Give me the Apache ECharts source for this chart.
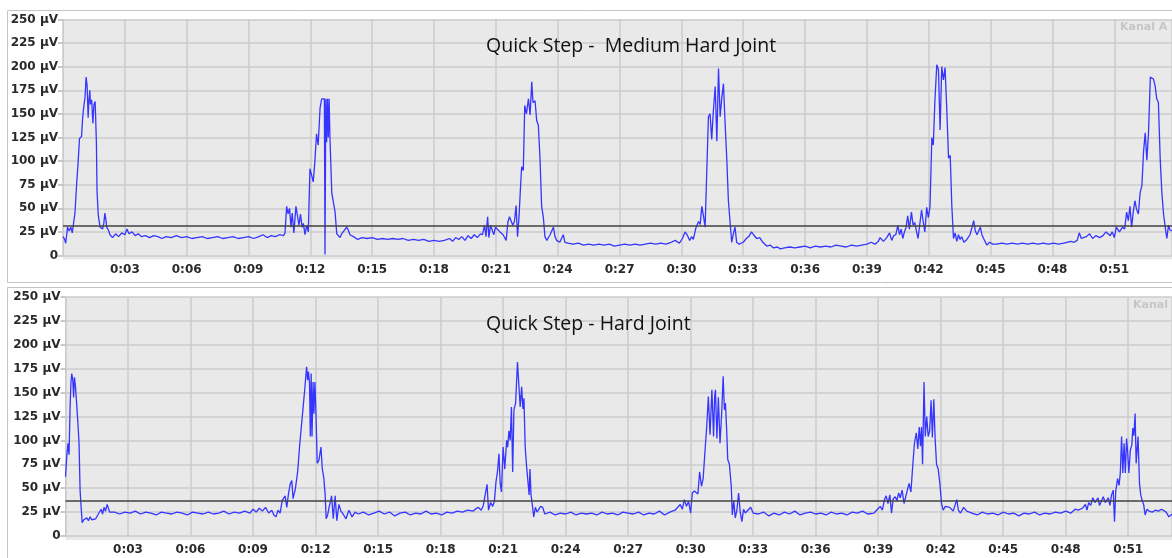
<!DOCTYPE html>
<html>
<head>
<meta charset="utf-8">
<script src="https://cdn.jsdelivr.net/npm/echarts@6/dist/echarts.min.js"></script>
<style>
  html, body { margin: 0; padding: 0; background: #ffffff; }
  #chart { width: 1172px; height: 558px; }
</style>
</head>
<body>
<div id="chart"></div>
<script>
// EMG amplitude (µV) over time (s) for two quick-step recordings.
const mediumHardJoint = [
  [0.00,20],[0.08,17],[0.13,13],[0.18,22],[0.22,30],[0.30,26],[0.38,30],[0.45,24],[0.52,26],
  [0.58,45],[0.66,75],[0.74,101],[0.80,124],[0.90,126],[0.95,145],[1.00,156],[1.07,168],
  [1.12,189],[1.17,180],[1.22,146],[1.25,162],[1.30,175],[1.33,160],[1.39,165],[1.45,140],
  [1.50,160],[1.56,163],[1.62,120],[1.65,69],[1.71,43],[1.75,37],[1.80,30],[1.86,32],
  [1.92,28],[1.98,34],[2.03,45],[2.08,38],[2.12,30],[2.20,27],[2.28,22],[2.40,19],[2.55,23],
  [2.70,20],[2.85,24],[3.00,22],[3.10,28],[3.20,23],[3.35,25],[3.50,21],[3.65,23],[3.80,20],
  [4.00,21],[4.20,19],[4.40,21],[4.60,20],[4.80,18],[5.00,20],[5.25,19],[5.50,21],[5.75,19],
  [6.00,20],[6.25,18],[6.50,19],[6.75,20],[7.00,18],[7.25,19],[7.50,20],[7.75,18],[8.00,19],
  [8.25,20],[8.50,18],[8.75,19],[9.00,20],[9.25,18],[9.50,20],[9.70,22],[9.90,19],[10.10,21],
  [10.30,20],[10.50,22],[10.70,21],[10.77,24],[10.85,52],[10.92,44],[10.99,50],[11.06,30],
  [11.12,45],[11.20,24],[11.30,52],[11.38,50],[11.45,32],[11.52,44],[11.60,30],[11.66,34],
  [11.74,22],[11.82,32],[11.90,25],[11.98,92],[12.05,86],[12.14,78],[12.22,100],[12.30,129],
  [12.38,117],[12.47,156],[12.55,166],[12.63,164],[12.68,166],[12.71,1],[12.75,166],[12.79,120],
  [12.83,166],[12.87,125],[12.91,166],[12.95,125],[13.04,66],[13.12,64],[13.20,46],[13.28,23],
  [13.36,24],[13.44,19],[13.52,23],[13.60,21],[13.76,30],[13.84,27],[13.92,22],[14.09,20],
  [14.30,17],[14.50,19],[14.75,18],[15.00,19],[15.25,17],[15.50,18],[15.75,17],[16.00,18],
  [16.25,17],[16.50,18],[16.75,16],[17.00,17],[17.25,16],[17.50,17],[17.75,15],[18.00,16],
  [18.25,15],[18.50,16],[18.75,18],[18.90,15],[19.05,19],[19.20,17],[19.35,20],[19.50,16],
  [19.65,21],[19.80,18],[19.95,22],[20.10,19],[20.25,23],[20.35,22],[20.45,32],[20.52,20],
  [20.60,41],[20.66,19],[20.74,32],[20.82,27],[20.90,22],[20.98,30],[21.06,28],[21.20,25],
  [21.35,22],[21.50,16],[21.58,35],[21.66,41],[21.74,43],[21.82,32],[21.90,36],[21.98,53],
  [22.05,20],[22.12,40],[22.18,66],[22.25,94],[22.33,90],[22.40,159],[22.48,150],[22.58,166],
  [22.66,149],[22.74,184],[22.80,162],[22.90,164],[22.98,143],[23.06,138],[23.14,103],
  [23.22,52],[23.30,41],[23.38,20],[23.47,16],[23.55,14],[23.63,22],[23.79,30],[23.87,20],
  [23.95,16],[24.10,14],[24.27,22],[24.35,14],[24.50,13],[24.75,12],[25.00,13],[25.25,11],
  [25.50,12],[25.75,11],[26.00,12],[26.25,11],[26.50,12],[26.75,10],[27.00,11],[27.25,12],
  [27.50,11],[27.75,12],[28.00,11],[28.25,12],[28.50,13],[28.75,12],[29.00,13],[29.25,12],
  [29.50,14],[29.70,16],[29.90,13],[30.05,18],[30.18,25],[30.30,21],[30.40,16],[30.50,20],
  [30.58,17],[30.70,29],[30.83,36],[30.91,33],[30.99,52],[31.07,42],[31.15,30],[31.23,32],
  [31.31,147],[31.39,150],[31.47,123],[31.55,153],[31.64,179],[31.72,121],[31.80,198],
  [31.88,147],[31.96,167],[32.04,182],[32.12,140],[32.20,103],[32.28,58],[32.36,36],[32.44,14],
  [32.52,23],[32.60,30],[32.68,14],[32.80,12],[33.00,14],[33.15,18],[33.30,21],[33.40,25],
  [33.50,22],[33.65,18],[33.80,19],[33.95,14],[34.14,10],[34.30,11],[34.47,8],[34.65,9],
  [34.80,7],[35.00,8],[35.25,9],[35.50,8],[35.75,9],[36.00,10],[36.25,8],[36.50,10],[36.75,9],
  [37.00,10],[37.25,9],[37.50,11],[37.75,10],[38.00,9],[38.25,11],[38.50,10],[38.75,11],
  [39.00,12],[39.20,14],[39.40,12],[39.55,15],[39.64,19],[39.80,15],[39.96,19],[40.10,24],
  [40.20,16],[40.30,21],[40.40,22],[40.50,32],[40.58,22],[40.66,28],[40.74,18],[40.82,25],
  [40.90,30],[40.98,42],[41.06,28],[41.16,46],[41.24,32],[41.32,35],[41.40,26],[41.48,18],
  [41.56,20],[41.65,48],[41.73,36],[41.81,25],[41.90,51],[41.98,40],[42.06,52],[42.15,125],
  [42.22,117],[42.30,165],[42.39,202],[42.47,197],[42.55,133],[42.63,200],[42.71,186],
  [42.79,199],[42.87,157],[42.96,103],[43.04,106],[43.12,52],[43.20,18],[43.28,24],[43.36,15],
  [43.44,22],[43.52,17],[43.60,20],[43.70,14],[43.85,17],[44.00,22],[44.10,30],[44.18,37],
  [44.26,26],[44.34,22],[44.50,30],[44.58,22],[44.66,18],[44.75,19],[44.82,11],[44.95,14],
  [45.10,12],[45.30,12],[45.55,13],[45.80,12],[46.05,13],[46.30,12],[46.55,13],[46.80,12],
  [47.05,13],[47.30,12],[47.55,13],[47.80,12],[48.05,13],[48.30,12],[48.55,13],[48.70,14],
  [48.90,15],[49.05,14],[49.20,16],[49.30,24],[49.40,18],[49.50,19],[49.65,20],[49.80,23],
  [49.95,18],[50.10,21],[50.30,19],[50.45,21],[50.60,25],[50.80,21],[50.90,25],[51.00,19],
  [51.10,30],[51.25,25],[51.40,30],[51.50,28],[51.60,46],[51.68,37],[51.76,52],[51.84,30],
  [51.92,46],[52.00,58],[52.08,49],[52.17,44],[52.25,66],[52.34,74],[52.42,110],[52.50,130],
  [52.58,101],[52.66,130],[52.75,189],[52.83,190],[52.90,187],[52.98,180],[53.06,166],
  [53.14,162],[53.23,101],[53.31,66],[53.39,44],[53.47,30],[53.55,18],[53.63,32],[53.70,27],
  [53.80,26]
];

const hardJoint = [
  [0.00,62],[0.06,83],[0.12,97],[0.17,85],[0.22,135],[0.26,160],[0.30,170],[0.35,163],
  [0.39,145],[0.43,166],[0.48,156],[0.53,140],[0.59,120],[0.65,97],[0.70,48],[0.75,30],
  [0.80,14],[0.88,17],[0.94,15],[1.02,19],[1.10,16],[1.18,20],[1.26,17],[1.35,19],[1.45,18],
  [1.55,22],[1.63,24],[1.71,28],[1.78,23],[1.85,30],[1.92,26],[2.00,33],[2.05,35],[2.12,25],
  [2.20,24],[2.35,25],[2.60,23],[2.85,25],[3.10,24],[3.35,26],[3.60,23],[3.85,25],[4.10,24],
  [4.35,22],[4.60,25],[4.85,24],[5.10,23],[5.35,25],[5.60,24],[5.85,22],[6.10,25],[6.35,24],
  [6.60,23],[6.85,25],[7.10,23],[7.35,24],[7.60,26],[7.85,23],[8.10,25],[8.35,24],[8.60,26],
  [8.85,24],[9.00,28],[9.15,25],[9.30,29],[9.45,26],[9.60,30],[9.75,24],[9.90,27],[10.00,22],
  [10.10,20],[10.20,27],[10.30,24],[10.40,37],[10.46,35],[10.54,42],[10.62,30],[10.70,44],
  [10.78,54],[10.86,58],[10.92,39],[10.97,44],[11.02,48],[11.06,54],[11.14,67],[11.23,93],
  [11.30,95],[11.40,134],[11.48,153],[11.57,177],[11.62,163],[11.66,172],[11.71,160],
  [11.75,104],[11.79,170],[11.83,104],[11.88,161],[11.92,128],[11.97,161],[12.02,128],
  [12.08,76],[12.16,79],[12.26,93],[12.32,71],[12.40,60],[12.46,43],[12.51,18],[12.58,22],
  [12.65,30],[12.77,42],[12.85,18],[12.94,42],[13.02,16],[13.12,33],[13.22,26],[13.35,22],
  [13.46,18],[13.60,27],[13.75,20],[13.90,25],[14.05,23],[14.30,25],[14.55,22],[14.80,24],
  [15.05,26],[15.30,23],[15.55,25],[15.80,21],[16.05,24],[16.30,25],[16.55,22],[16.80,24],
  [17.05,23],[17.30,26],[17.55,23],[17.80,24],[18.05,22],[18.30,25],[18.55,24],[18.80,26],
  [19.05,25],[19.30,27],[19.55,26],[19.80,30],[19.95,27],[20.05,32],[20.23,54],[20.30,27],
  [20.40,35],[20.50,31],[20.58,36],[20.66,57],[20.74,69],[20.80,86],[20.86,55],[20.92,46],
  [21.00,93],[21.08,70],[21.17,100],[21.22,93],[21.28,110],[21.34,100],[21.40,135],[21.46,67],
  [21.52,132],[21.60,139],[21.69,182],[21.76,180],[21.82,135],[21.89,156],[21.95,133],
  [22.00,144],[22.06,93],[22.13,72],[22.20,72],[22.25,43],[22.29,70],[22.34,43],[22.40,33],
  [22.47,20],[22.55,30],[22.63,25],[22.72,23],[22.80,31],[22.90,30],[23.00,23],[23.25,25],
  [23.50,22],[23.75,24],[24.00,23],[24.25,25],[24.50,22],[24.75,24],[25.00,23],[25.25,24],
  [25.50,22],[25.75,25],[26.00,23],[26.25,24],[26.50,22],[26.75,25],[27.00,24],[27.25,23],
  [27.50,25],[27.75,22],[28.00,24],[28.25,23],[28.50,26],[28.75,22],[29.00,25],[29.25,27],
  [29.50,33],[29.60,28],[29.70,38],[29.80,31],[29.90,36],[30.00,24],[30.08,45],[30.18,47],
  [30.26,48],[30.35,44],[30.43,67],[30.52,52],[30.60,60],[30.68,86],[30.77,114],[30.85,146],
  [30.93,106],[31.02,153],[31.10,104],[31.15,145],[31.19,153],[31.26,102],[31.33,145],
  [31.41,97],[31.49,129],[31.56,167],[31.62,132],[31.67,139],[31.73,110],[31.78,80],
  [31.86,75],[31.95,52],[32.00,22],[32.07,37],[32.14,19],[32.22,27],[32.30,45],[32.38,25],
  [32.46,15],[32.54,28],[32.62,24],[32.70,25],[32.88,30],[33.00,24],[33.25,23],[33.50,25],
  [33.75,21],[34.00,24],[34.25,22],[34.50,25],[34.75,23],[35.00,26],[35.25,22],[35.50,24],
  [35.75,25],[36.00,23],[36.25,24],[36.50,22],[36.75,25],[37.00,23],[37.25,24],[37.50,22],
  [37.75,25],[38.00,24],[38.25,26],[38.50,23],[38.80,24],[38.97,28],[39.10,31],[39.20,27],
  [39.30,38],[39.38,42],[39.47,34],[39.56,43],[39.64,24],[39.72,39],[39.82,41],[39.90,37],
  [39.98,45],[40.06,40],[40.15,48],[40.24,34],[40.32,36],[40.40,48],[40.48,55],[40.57,46],
  [40.66,74],[40.74,97],[40.83,108],[40.90,91],[40.97,114],[41.03,94],[41.08,114],[41.13,75],
  [41.20,161],[41.26,104],[41.33,125],[41.40,104],[41.47,110],[41.54,142],[41.60,103],
  [41.67,143],[41.73,103],[41.80,75],[41.88,70],[41.96,55],[42.04,34],[42.12,27],[42.22,31],
  [42.30,30],[42.43,30],[42.60,26],[42.77,38],[42.85,27],[42.95,24],[43.10,30],[43.25,26],
  [43.50,24],[43.75,22],[44.00,25],[44.25,23],[44.50,24],[44.75,22],[45.00,25],[45.25,23],
  [45.50,24],[45.75,21],[46.00,24],[46.25,23],[46.50,25],[46.75,22],[47.00,24],[47.25,23],
  [47.50,25],[47.75,24],[48.00,26],[48.25,24],[48.45,28],[48.60,27],[48.80,29],[48.94,33],
  [49.02,27],[49.10,35],[49.20,32],[49.30,40],[49.40,35],[49.55,40],[49.62,32],[49.70,34],
  [49.80,41],[49.90,35],[50.04,40],[50.12,32],[50.20,43],[50.28,48],[50.34,15],[50.40,47],
  [50.49,60],[50.56,53],[50.62,66],[50.68,104],[50.74,66],[50.80,97],[50.86,66],[50.92,102],
  [50.97,88],[51.03,66],[51.10,90],[51.17,95],[51.22,113],[51.27,105],[51.33,128],[51.38,76],
  [51.43,74],[51.47,104],[51.54,55],[51.60,43],[51.67,37],[51.74,33],[51.81,22],[51.90,28],
  [52.00,26],[52.15,25],[52.30,27],[52.45,26],[52.60,28],[52.82,25],[52.95,20],[53.10,23]
];

// Threshold levels (µV) drawn as horizontal reference lines
const mediumThreshold = 32;
const hardThreshold = 37;

const panelTitles = ['Quick Step -  Medium Hard Joint', 'Quick Step - Hard Joint'];
const channelLabel = 'Kanal A';

const chart = echarts.init(document.getElementById('chart'), null, { renderer: 'canvas' });

const gridColor = '#cbcbcb';
const plotBg = '#e9e9e9';
const labelFont = { fontFamily: 'DejaVu Sans', fontWeight: 'bold', fontSize: 12, color: '#2a2a2a' };
const titleFont = { fontFamily: 'Open Sans', fontSize: 19.5, fontWeight: 'normal', color: '#111' };

function timeLabel(v) {
  const s = Math.round(v);
  return '0:' + String(s).padStart(2, '0');
}

function makeY(gridIndex) {
  return {
    type: 'value', gridIndex, min: 0, max: 250, interval: 25,
    axisLine: { show: true, lineStyle: { color: gridColor, width: 1 } },
    axisTick: { show: true, length: 5, lineStyle: { color: '#b8b8b8', width: 1.5 } },
    axisLabel: Object.assign({ margin: 5, formatter: v => v === 0 ? '0' : v + ' µV' }, labelFont),
    splitLine: { show: true, lineStyle: { color: gridColor, width: 1.5 } }
  };
}

function makeX(gridIndex, max) {
  return {
    type: 'value', gridIndex, min: 0, max, interval: 3,
    axisLine: { show: false },
    axisTick: { show: false },
    axisLabel: Object.assign({ margin: 8, showMinLabel: false, showMaxLabel: false, formatter: timeLabel }, labelFont),
    splitLine: { show: true, lineStyle: { color: gridColor, width: 1.5 } }
  };
}

function makeSeries(data, idx, threshold) {
  return {
    type: 'line', xAxisIndex: idx, yAxisIndex: idx, data,
    showSymbol: false, symbol: 'none', animation: false,
    lineStyle: { color: '#3535ff', width: 1.3 },
    markLine: {
      silent: true, symbol: ['none', 'none'], animation: false,
      label: { show: false },
      lineStyle: { color: '#404040', width: 1.5, type: 'solid' },
      data: [{ yAxis: threshold }]
    }
  };
}

chart.setOption({
  animation: false,
  backgroundColor: '#ffffff',
  grid: [
    { left: 63, top: 19.5, width: 1109, height: 236, show: true, backgroundColor: plotBg, borderWidth: 0 },
    { left: 65.5, top: 297, width: 1106.5, height: 239, show: true, backgroundColor: plotBg, borderWidth: 0 }
  ],
  xAxis: [makeX(0, 53.8), makeX(1, 53.1)],
  yAxis: [makeY(0), makeY(1)],
  title: [
    { text: panelTitles[0], left: 486, top: 36, padding: 0, textStyle: titleFont },
    { text: panelTitles[1], left: 486, top: 314, padding: 0, textStyle: titleFont }
  ],
  graphic: [
    // panel frames
    { type: 'rect', silent: true, z: -1, shape: { x: 7.5, y: 10.5, width: 1180, height: 272 },
      style: { fill: null, stroke: '#c4c4c4', lineWidth: 1 } },
    { type: 'rect', silent: true, z: -1, shape: { x: 7.5, y: 287.5, width: 1180, height: 280 },
      style: { fill: null, stroke: '#c4c4c4', lineWidth: 1 } },
    // grey plot area continues slightly under the zero line
    { type: 'rect', silent: true, z: -1, shape: { x: 63, y: 255.5, width: 1109, height: 4 },
      style: { fill: plotBg } },
    { type: 'rect', silent: true, z: -1, shape: { x: 65.5, y: 536, width: 1106.5, height: 4 },
      style: { fill: plotBg } },
    { type: 'text', silent: true, left: 1120, top: 22,
      style: { text: channelLabel, fill: '#c6c6c6', font: 'bold 11px "DejaVu Sans"' } },
    { type: 'text', silent: true, left: 1133, top: 300,
      style: { text: channelLabel, fill: '#c6c6c6', font: 'bold 11px "DejaVu Sans"' } }
  ],
  series: [
    makeSeries(mediumHardJoint, 0, mediumThreshold),
    makeSeries(hardJoint, 1, hardThreshold)
  ]
});
</script>
</body>
</html>
